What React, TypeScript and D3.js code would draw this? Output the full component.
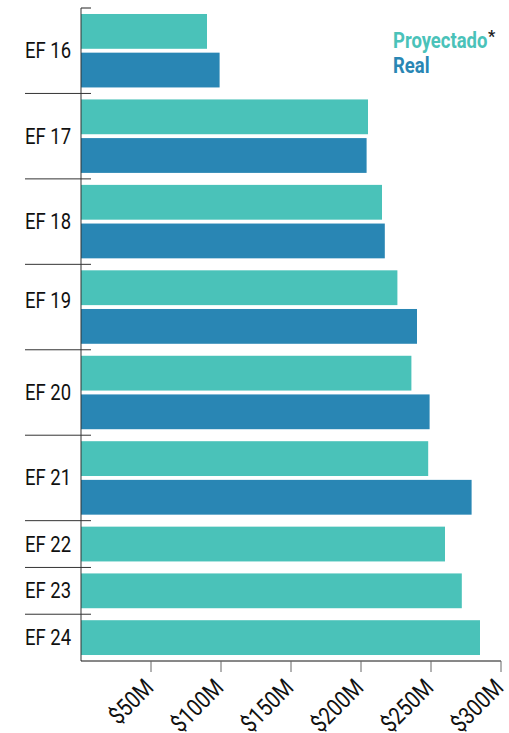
import * as d3 from 'd3';

// datos (millones de dólares)
const categories = ['EF 16', 'EF 17', 'EF 18', 'EF 19', 'EF 20', 'EF 21', 'EF 22', 'EF 23', 'EF 24'];
const proyectado = [90, 205, 215, 226, 236, 248, 260, 272, 285];
const real: (number | null)[] = [99, 204, 217, 240, 249, 279, null, null, null];
const tickValues = [50, 100, 150, 200, 250, 300];
const tickLabels = ['$50M', '$100M', '$150M', '$200M', '$250M', '$300M'];

const W = 509;
const H = 733;
const TEAL = '#4AC2B9';
const BLUE = '#2986B4';
const FONT = 'Roboto, "Noto Sans", sans-serif';
const K = 0.84; // condensado horizontal

const App = () => {
  const margin = { top: 8, left: 81, right: 8, bottom: 72 };
  const x = d3.scaleLinear().domain([0, 300]).range([margin.left, 501]);

  const PI = 0.1;
  const PO = 0.155;
  const slots = categories.map((c, i) => (real[i] == null ? ['p'] : ['p', 'r']));
  const units = slots.map(s => s.length - PI + 2 * PO);
  const ends = Array.from(d3.cumsum(units));
  const starts = [0, ...ends.slice(0, -1)];
  const yU = d3.scaleLinear().domain([0, d3.sum(units)]).range([margin.top, H - margin.bottom]);
  const bottom = H - margin.bottom;

  const groups = categories.map((c, i) => {
    const inner = d3.scaleBand<string>()
      .domain(slots[i])
      .range([yU(starts[i]), yU(ends[i])])
      .paddingInner(PI)
      .paddingOuter(PO);
    return { c, i, inner, y0: yU(starts[i]), y1: yU(ends[i]) };
  });

  // la etiqueta de EF 19 va algo más arriba en el original
  const nudge = (c: string) => (c === 'EF 19' ? -7 : 0);

  return (
    <svg width={W} height={H} style={{ position: 'absolute', left: 0, top: 0 }} fontFamily={FONT}>
      {/* barras */}
      {groups.map(g => (
        <g key={g.c}>
          <rect x={x(0)} y={g.inner('p')} width={x(proyectado[g.i]) - x(0)} height={g.inner.bandwidth()} fill={TEAL} />
          {real[g.i] != null && (
            <rect x={x(0)} y={g.inner('r')} width={x(real[g.i] as number) - x(0)} height={g.inner.bandwidth()} fill={BLUE} />
          )}
          <text
            transform={`translate(25,${(g.y0 + g.y1) / 2 + 7.5 + nudge(g.c)}) scale(${K},1)`}
            fontSize={22}
            fill="#111"
          >
            {g.c}
          </text>
        </g>
      ))}

      {/* separadores */}
      <line x1={x(0)} x2={x(0) + 10} y1={margin.top} y2={margin.top} stroke="#222" />
      {groups.slice(1).map(g => (
        <line key={g.c} x1={25} x2={x(0) + 10} y1={g.y0} y2={g.y0} stroke="#333" />
      ))}

      {/* ejes */}
      <line x1={x(0)} x2={x(0)} y1={margin.top} y2={bottom} stroke="#333" />
      <line x1={x(0)} x2={x(300)} y1={bottom} y2={bottom} stroke="#111" />
      {tickValues.map((v, i) => (
        <g key={v}>
          <line x1={x(v)} x2={x(v)} y1={bottom} y2={bottom + 11} stroke="#666" />
          <text
            transform={`translate(${x(v) + 4},${bottom + 28}) rotate(-45) scale(${K},1)`}
            textAnchor="end"
            fontSize={24}
            fill="#111"
          >
            {tickLabels[i]}
          </text>
        </g>
      ))}

      {/* leyenda */}
      <text transform={`translate(393,48) scale(${K},1)`} fontSize={22} fontWeight="bold" fill={TEAL}>Proyectado</text>
      <text x={488} y={42} fontSize={16} fontWeight="bold" fill="#222">*</text>
      <text transform={`translate(393,73) scale(${K},1)`} fontSize={22} fontWeight="bold" fill={BLUE}>Real</text>
    </svg>
  );
};

export default App;
